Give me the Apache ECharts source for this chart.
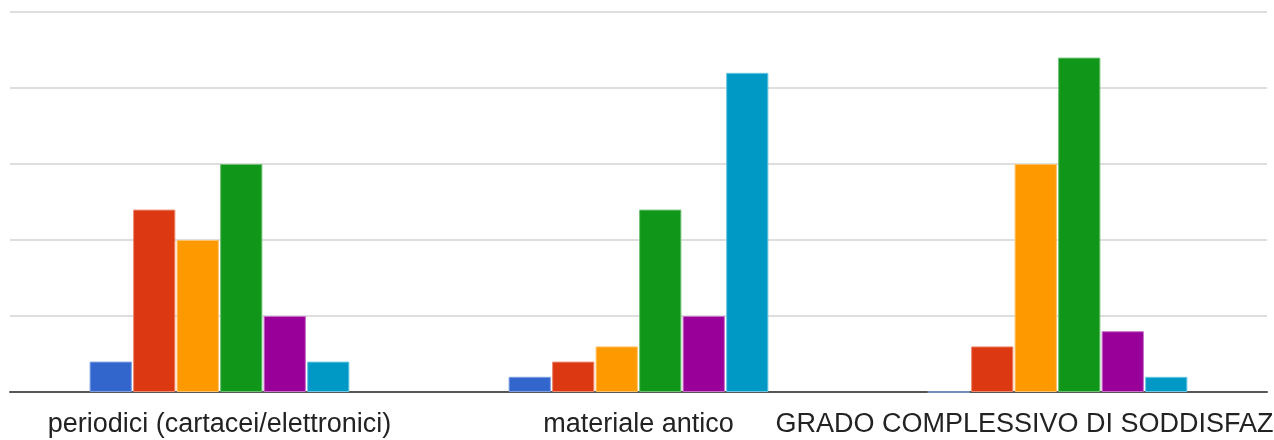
<!DOCTYPE html>
<html>
<head>
<meta charset="utf-8">
<script src="https://cdn.jsdelivr.net/npm/echarts@6/dist/echarts.min.js"></script>
<style>
html,body{margin:0;padding:0;background:#fff;}
#chart{width:1274px;height:440px;}
</style>
</head>
<body>
<div id="chart"></div>
<script>
var categories = ['periodici (cartacei/elettronici)', 'materiale antico', 'GRADO COMPLESSIVO DI SODDISFAZIONE'];
var seriesNames = ['1', '2', '3', '4', '5', 'N.R.'];
var s1 = [2, 1, 0];
var s2 = [12, 2, 3];
var s3 = [10, 3, 15];
var s4 = [15, 12, 22];
var s5 = [5, 5, 4];
var s6 = [2, 21, 1];
var yTicks = [0, 5, 10, 15, 20, 25];

var colors = ['#3366cc', '#dc3912', '#ff9900', '#109618', '#990099', '#0099c6'];
var borders = ['#7f9fe0', '#ec8a72', '#ffc266', '#6fc075', '#c870c8', '#6cc8e4'];
var allData = [s1, s2, s3, s4, s5, s6];

var chart = echarts.init(document.getElementById('chart'));
chart.setOption({
  animation: false,
  grid: {left: 10, right: 7, top: 12, bottom: 48, containLabel: false, outerBoundsMode: 'none'},
  xAxis: {
    type: 'category',
    data: categories,
    axisLine: {lineStyle: {color: '#555', width: 2}},
    axisTick: {show: false},
    axisLabel: {
      interval: 0,
      color: '#222',
      fontFamily: 'Liberation Sans, Arial, sans-serif',
      fontSize: 27,
      margin: 19,
      hideOverlap: false
    }
  },
  yAxis: {
    type: 'value',
    min: yTicks[0],
    max: yTicks[yTicks.length - 1],
    interval: 5,
    axisLabel: {show: false},
    axisLine: {show: false},
    axisTick: {show: false},
    splitLine: {lineStyle: {color: '#dedede', width: 2}}
  },
  series: allData.map(function (d, i) {
    return {
      name: seriesNames[i],
      type: 'bar',
      data: d,
      barGap: '3%',
      barCategoryGap: '38%',
      itemStyle: {color: colors[i], borderColor: borders[i], borderWidth: 1}
    };
  })
});
</script>
</body>
</html>
